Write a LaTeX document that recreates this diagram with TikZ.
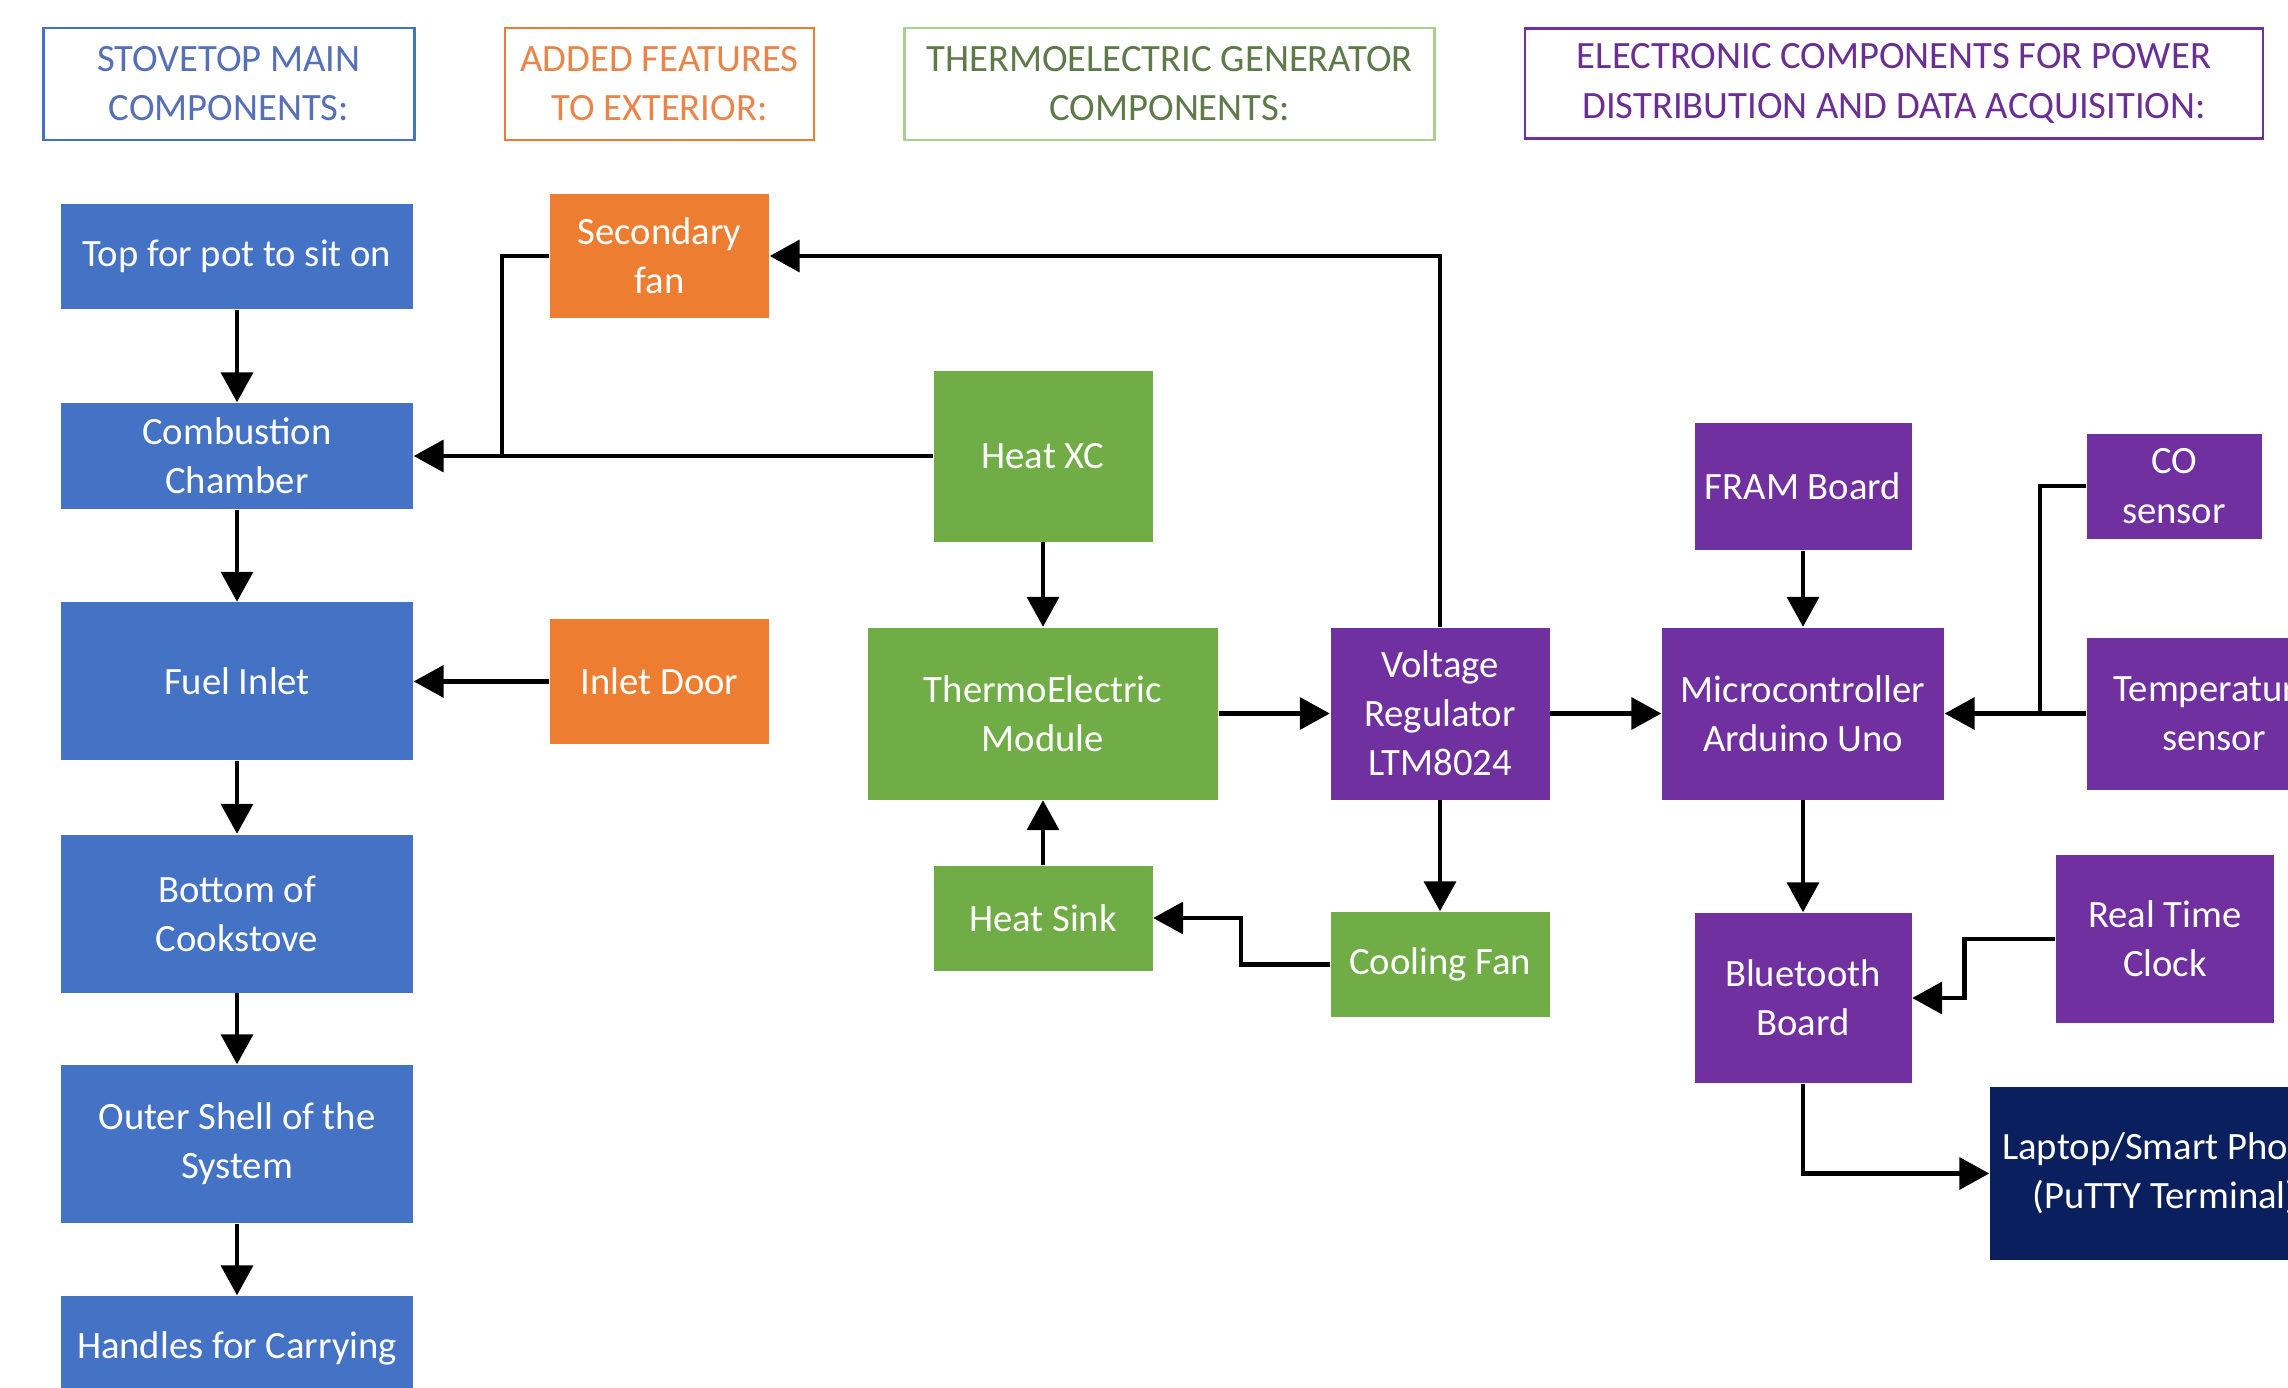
\documentclass[tikz,border=0pt]{standalone}
\usepackage{fontspec}
\setmainfont{Carlito}
\usetikzlibrary{arrows.meta}

\definecolor{stoveblue}{HTML}{4472C4}
\definecolor{stovetext}{HTML}{5570B8}
\definecolor{addorange}{HTML}{ED7D31}
\definecolor{addtext}{HTML}{E8854A}
\definecolor{tegreen}{HTML}{70AD47}
\definecolor{tegreenlight}{HTML}{A9D18E}
\definecolor{tetext}{HTML}{5E7A48}
\definecolor{elecpurple}{HTML}{7030A0}
\definecolor{electext}{HTML}{6A2E94}
\definecolor{laptopnavy}{HTML}{0A1F5E}

\begin{document}
\begin{tikzpicture}[
        box/.style={inner sep=0pt, align=center, text=white, font=\fontsize{11}{14}\selectfont},
        stovebox/.style={box, fill=stoveblue, minimum width=3.52cm},
        addbox/.style={box, fill=addorange, minimum width=2.19cm},
        tebox/.style={box, fill=tegreen},
        elecbox/.style={box, fill=elecpurple},
        headbox/.style={inner sep=0pt, align=center, fill=white, line width=0.6pt, minimum height=1.12cm, font=\fontsize{11}{14}\selectfont},
        arr/.style={line width=1.25pt, -{Triangle[width=9pt,length=8.5pt]}},
        joinline/.style={line width=1.25pt}
    ]
                \useasboundingbox (0,0) rectangle (22.88,-13.88);

                \node (stovehead) at (2.29,-0.84) [headbox, draw=stoveblue, text=stovetext, minimum width=3.71cm] {STOVETOP MAIN\\COMPONENTS:};
                \node (addhead) at (6.595,-0.84) [headbox, draw=addorange, text=addtext, minimum width=3.09cm] {ADDED FEATURES\\TO EXTERIOR:};
                \node (tehead) at (11.695,-0.84) [headbox, draw=tegreenlight, text=tetext, minimum width=5.30cm] {THERMOELECTRIC GENERATOR\\COMPONENTS:};
                \node (elechead) at (18.94,-0.835) [headbox, draw=elecpurple, text=electext, minimum width=7.38cm, minimum height=1.10cm] {ELECTRONIC COMPONENTS FOR POWER\\DISTRIBUTION AND DATA ACQUISITION:};

                \node (top) at (2.37,-2.568) [stovebox, minimum height=1.05cm] {Top for pot to sit on};
                \node (combustion) at (2.37,-4.56) [stovebox, minimum height=1.06cm] {Combustion\\Chamber};
                \node (fuelinlet) at (2.37,-6.814) [stovebox, minimum height=1.58cm] {Fuel Inlet};
                \node (bottom) at (2.37,-9.135) [stovebox, minimum height=1.58cm] {Bottom of\\Cookstove};
                \node (outershell) at (2.37,-11.44) [stovebox, minimum height=1.58cm] {Outer Shell of the\\System};
                \node (handles) at (2.37,-13.485) [stovebox, minimum height=1.05cm] {Handles for Carrying};

                \node (secfan) at (6.595,-2.56) [addbox, minimum height=1.24cm] {Secondary\\fan};
                \node (inletdoor) at (6.595,-6.814) [addbox, minimum height=1.25cm] {Inlet Door};

                \node (heatxc) at (10.43,-4.56) [tebox, minimum width=2.19cm, minimum height=1.71cm] {Heat XC};
                \node (temodule) at (10.43,-7.135) [tebox, minimum width=3.50cm, minimum height=1.72cm] {ThermoElectric\\Module};
                \node (heatsink) at (10.43,-9.18) [tebox, minimum width=2.19cm, minimum height=1.05cm] {Heat Sink};
                \node (coolfan) at (14.40,-9.645) [tebox, minimum width=2.19cm, minimum height=1.05cm] {Cooling Fan};

                \node (vreg) at (14.40,-7.135) [elecbox, minimum width=2.19cm, minimum height=1.72cm] {Voltage\\Regulator\\LTM8024};
                \node (fram) at (18.03,-4.866) [elecbox, minimum width=2.17cm, minimum height=1.27cm] {FRAM Board};
                \node (micro) at (18.03,-7.135) [elecbox, minimum width=2.82cm, minimum height=1.72cm] {Microcontroller\\Arduino Uno};
                \node (cosensor) at (21.74,-4.86) [elecbox, minimum width=1.75cm, minimum height=1.05cm] {CO\\sensor};
                \node (tempsensor) at (22.14,-7.14) [elecbox, minimum width=2.54cm, minimum height=1.52cm] {Temperature\\sensor};
                \node (rtc) at (21.65,-9.39) [elecbox, minimum width=2.18cm, minimum height=1.68cm] {Real Time\\Clock};
                \node (bluetooth) at (18.03,-9.98) [elecbox, minimum width=2.17cm, minimum height=1.70cm] {Bluetooth\\Board};
                \node (laptop) at (21.65,-11.735) [box, fill=laptopnavy, minimum width=3.50cm, minimum height=1.73cm] {Laptop/Smart Phone\\(PuTTY Terminal)};

                \coordinate (fanjoin) at (5.02,-4.56);
                \coordinate (cojoin) at (20.40,-7.135);

                \draw[arr] (top) -- (combustion);
                \draw[arr] (combustion) -- (fuelinlet);
                \draw[arr] (fuelinlet) -- (bottom);
                \draw[arr] (bottom) -- (outershell);
                \draw[arr] (outershell) -- (handles);

                \draw[arr] (heatxc) -- (combustion);
                \draw[joinline] (secfan.west) -| (fanjoin);
                \draw[arr] (inletdoor) -- (fuelinlet);
                \draw[arr] (vreg.north) |- (secfan.east);

                \draw[arr] (heatxc) -- (temodule);
                \draw[arr] (heatsink) -- (temodule);
                \draw[arr] (temodule) -- (vreg);
                \draw[arr] (vreg) -- (coolfan);
                \draw[arr] (coolfan.west) -- ++(-0.89,0) |- (heatsink.east);

                \draw[arr] (vreg) -- (micro);
                \draw[arr] (fram) -- (micro);
                \draw[arr] (tempsensor.west |- micro) -- (micro);
                \draw[joinline] (cosensor.west) -| (cojoin);
                \draw[arr] (micro) -- (bluetooth);
                \draw[arr] (rtc.west) -- ++(-0.91,0) |- (bluetooth.east);
                \draw[arr] (bluetooth.south) |- (laptop.west);
            \end{tikzpicture}
\end{document}
